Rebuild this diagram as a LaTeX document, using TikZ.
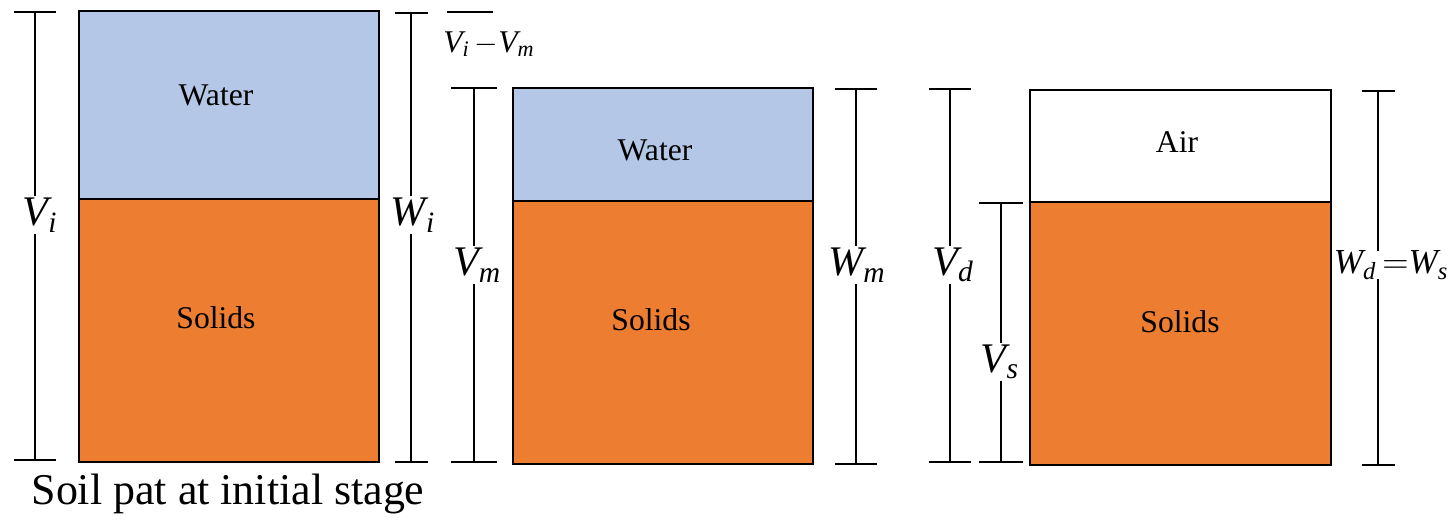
\documentclass[tikz,border=0pt]{standalone}
\usepackage{fontspec}
\setmainfont{Liberation Serif}
\usepackage{tikz}
\usetikzlibrary{arrows.meta,positioning}
\definecolor{waterBlue}{RGB}{180,199,231}
\definecolor{solidOrange}{RGB}{237,125,49}
\tikzset{
  phase/.style={draw=black, line width=1.6pt},
  dimline/.style={line width=1.1pt, {Bar[width=0.84cm]}-{Bar[width=0.84cm]}},
  dimlbl/.style={fill=white, inner sep=1pt, font=\fontsize{24}{28}\selectfont},
  phaselbl/.style={font=\fontsize{18}{21}\selectfont}
}

\begin{document}
\begin{tikzpicture}[x=0.02cm, y=-0.02cm]
    \useasboundingbox (0,0) rectangle (1448,522);
    % soil pat at initial stage
    \fill[waterBlue] (79,11) rectangle (379,199);
    \fill[solidOrange] (79,199) rectangle (379,462);
    \draw[phase] (79,11) rectangle (379,462);
    \draw[phase] (79,199) -- (379,199);
    \node[phaselbl] (water1) at (216,95) {Water};
    \node[phaselbl] (solids1) at (216,318) {Solids};
    % after some drying
    \fill[waterBlue] (513,88) rectangle (813,201);
    \fill[solidOrange] (513,201) rectangle (813,464);
    \draw[phase] (513,88) rectangle (813,464);
    \draw[phase] (513,201) -- (813,201);
    \node[phaselbl] (water2) at (655,150) {Water};
    \node[phaselbl] (solids2) at (651,320) {Solids};
    % dry
    \fill[solidOrange] (1030,202) rectangle (1331,465);
    \draw[phase] (1030,90) rectangle (1331,465);
    \draw[phase] (1030,202) -- (1331,202);
    \node[phaselbl] (air3) at (1177,142) {Air};
    \node[phaselbl] (solids3) at (1180,322) {Solids};

    % dimensions
    \coordinate (vitop) at (35,11);   \coordinate (vibot) at (35,461);
    \coordinate (witop) at (411,12);  \coordinate (wibot) at (411,463);
    \coordinate (vmtop) at (474,87);  \coordinate (vmbot) at (474,463);
    \coordinate (wmtop) at (856,88);  \coordinate (wmbot) at (856,465);
    \coordinate (vdtop) at (950,88);  \coordinate (vdbot) at (950,463);
    \coordinate (vstop) at (1001,202);\coordinate (vsbot) at (1001,463);
    \coordinate (wdtop) at (1378,90); \coordinate (wdbot) at (1378,466);
    \coordinate (capl) at (447,12);   \coordinate (capr) at (493,12);

    \draw[dimline] (vitop) -- (vibot);
    \draw[dimline, {Bar[width=0.66cm]}-{Bar[width=0.66cm]}] (witop) -- (wibot);
    \draw[dimline, {Bar[width=0.92cm]}-{Bar[width=0.92cm]}] (vmtop) -- (vmbot);
    \draw[dimline] (wmtop) -- (wmbot);
    \draw[dimline] (vdtop) -- (vdbot);
    \draw[dimline, {Bar[width=0.88cm]}-{Bar[width=0.88cm]}] (vstop) -- (vsbot);
    \draw[dimline, {Bar[width=0.66cm]}-{Bar[width=0.66cm]}] (wdtop) -- (wdbot);
    \draw[line width=1.1pt] (capl) -- (capr);

    \node[dimlbl] (vi) at (40,215) {$\mathit{V}_{\mathit{i}}$};
    \node[dimlbl] (wi) at (413,215) {$\mathit{W}_{\mathit{i}}$};
    \node[dimlbl, font=\fontsize{18}{22}\selectfont] (vivm) at (489,44) {$\mathit{V}_{\mathit{i}}\,{-}\mathit{V}_{\mathit{m}}$};
    \node[dimlbl] (vm) at (477,265) {$\mathit{V}_{\mathit{m}}$};
    \node[dimlbl] (wm) at (857,265) {$\mathit{W}_{\mathit{m}}$};
    \node[dimlbl] (vd) at (953,265) {$\mathit{V}_{\mathit{d}}$};
    \node[dimlbl] (vs) at (1000,362) {$\mathit{V}_{\mathit{s}}$};
    \node[dimlbl, inner sep=0pt, font=\fontsize{20}{24}\selectfont] (wdws) at (1391,265) {$\mathit{W}_{\mathit{d}}\,{=}\mathit{W}_{\mathit{s}}$};

    \node[font=\fontsize{25}{30}\selectfont] (caption) at (228,494) {Soil pat at initial stage};
\end{tikzpicture}
\end{document}
